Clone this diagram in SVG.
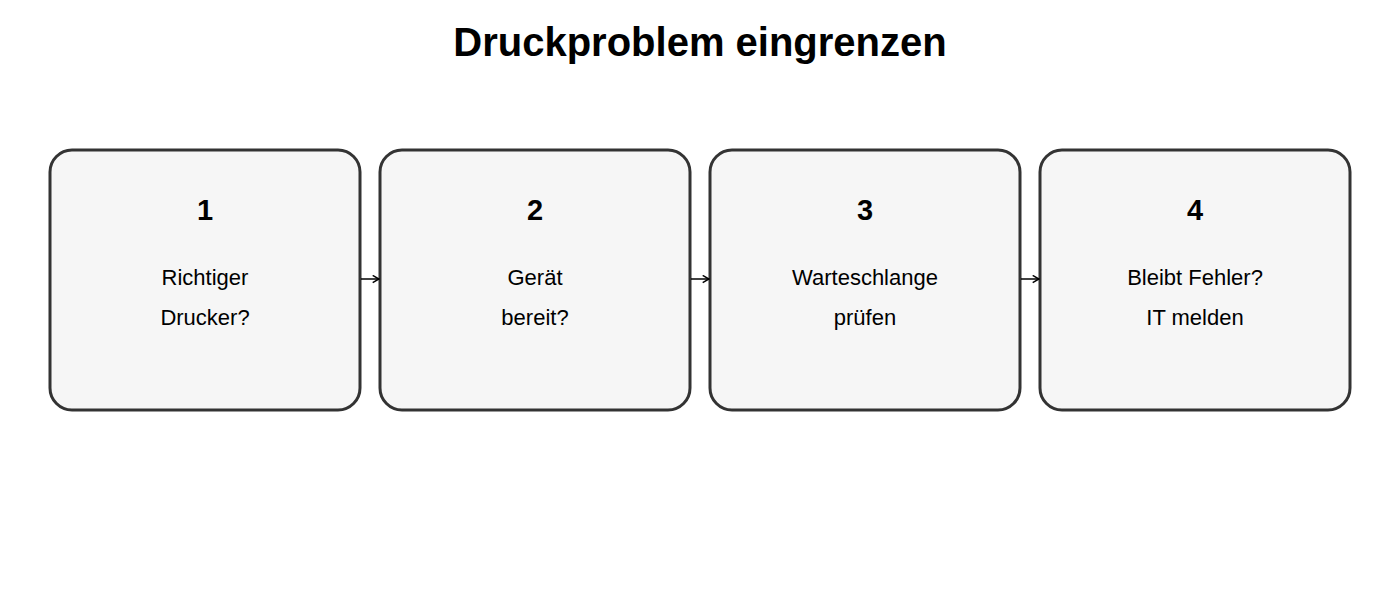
<svg xmlns="http://www.w3.org/2000/svg" width="1400" height="600" viewBox="0 0 1400 600">
<defs>
<marker id="arr" viewBox="0 0 10 10" refX="9" refY="5" markerWidth="9" markerHeight="9" markerUnits="userSpaceOnUse" orient="auto">
<path d="M2,1 L9,5 L2,9" fill="none" stroke="#000" stroke-width="1.6"/>
</marker>
<style>
.box{fill:#f6f6f6;stroke:#333;stroke-width:3}
.num{font-family:"Liberation Sans",Arial,sans-serif;font-weight:bold;font-size:29px;fill:#000;text-anchor:middle}
.lbl{font-family:"Liberation Sans",Arial,sans-serif;font-size:22px;fill:#000;text-anchor:middle}
.title{font-family:"Liberation Sans",Arial,sans-serif;font-weight:bold;font-size:40px;fill:#000;text-anchor:middle}
.conn{stroke:#000;stroke-width:1.5;fill:none}
</style>
</defs>
<rect width="1400" height="600" fill="#fff"/>
<text class="title" x="700" y="56">Druckproblem eingrenzen</text>
<g id="n1">
<rect class="box" x="50" y="150" width="310" height="260" rx="22"/>
<text class="num" x="205" y="220">1</text>
<text class="lbl" x="205" y="285">Richtiger</text>
<text class="lbl" x="205" y="325">Drucker?</text>
</g>
<g id="n2">
<rect class="box" x="380" y="150" width="310" height="260" rx="22"/>
<text class="num" x="535" y="220">2</text>
<text class="lbl" x="535" y="285">Gerät</text>
<text class="lbl" x="535" y="325">bereit?</text>
</g>
<g id="n3">
<rect class="box" x="710" y="150" width="310" height="260" rx="22"/>
<text class="num" x="865" y="220">3</text>
<text class="lbl" x="865" y="285">Warteschlange</text>
<text class="lbl" x="865" y="325">prüfen</text>
</g>
<g id="n4">
<rect class="box" x="1040" y="150" width="310" height="260" rx="22"/>
<text class="num" x="1195" y="220">4</text>
<text class="lbl" x="1195" y="285">Bleibt Fehler?</text>
<text class="lbl" x="1195" y="325">IT melden</text>
</g>
<g id="connectors">
<line class="conn" x1="361" y1="279" x2="379" y2="279" marker-end="url(#arr)"/>
<line class="conn" x1="691" y1="279" x2="709" y2="279" marker-end="url(#arr)"/>
<line class="conn" x1="1021" y1="279" x2="1039" y2="279" marker-end="url(#arr)"/>
</g>
</svg>
